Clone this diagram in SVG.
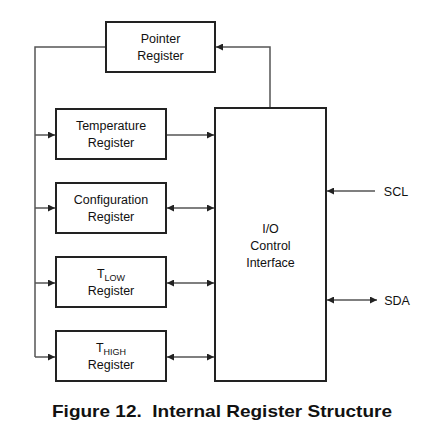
<svg xmlns="http://www.w3.org/2000/svg" width="427" height="430" viewBox="0 0 427 430">
<defs>
<marker id="ah" viewBox="0 0 10 10" refX="10" refY="5" markerWidth="9" markerHeight="7" markerUnits="userSpaceOnUse" orient="auto-start-reverse">
<path d="M0,0 L10,5 L0,10 z" fill="#222"/>
</marker>
<style>
.box{fill:#fff;stroke:#222;stroke-width:2}
.t{font-family:"Liberation Sans",Arial,sans-serif;font-size:12.5px;fill:#111;text-anchor:middle}
.sub{font-size:9px}
.c{fill:none;stroke:#555;stroke-width:1.5}
.a{marker-end:url(#ah)}
.b{marker-start:url(#ah);marker-end:url(#ah)}
.title{font-family:"Liberation Sans",Arial,sans-serif;font-size:17px;font-weight:bold;fill:#111}
</style>
</defs>
<rect width="427" height="430" fill="#fff"/>
<g id="connectors">
<path class="c" d="M106,47 H35 V357"/>
<path class="c a" d="M35,135 H55"/>
<path class="c a" d="M35,208 H55"/>
<path class="c a" d="M35,283 H55"/>
<path class="c a" d="M35,357 H55"/>
<path class="c a" d="M270,108 V47 H216"/>
<path class="c a" d="M166,135 H214"/>
<path class="c b" d="M167,208 H214"/>
<path class="c b" d="M167,283 H214"/>
<path class="c b" d="M167,357 H214"/>
<path class="c a" d="M375,191 H327"/>
<path class="c b" d="M327,300 H377"/>
</g>
<g id="pointer">
<rect class="box" x="106" y="22" width="109" height="50"/>
<text class="t" x="160.5" y="43">Pointer</text>
<text class="t" x="160.5" y="59.5">Register</text>
</g>
<g id="temperature">
<rect class="box" x="56" y="109" width="110" height="50"/>
<text class="t" x="111" y="130">Temperature</text>
<text class="t" x="111" y="147">Register</text>
</g>
<g id="configuration">
<rect class="box" x="56" y="183" width="110" height="50"/>
<text class="t" x="111" y="204">Configuration</text>
<text class="t" x="111" y="220.5">Register</text>
</g>
<g id="tlow">
<rect class="box" x="56" y="257" width="110" height="50"/>
<text class="t" x="111" y="278">T<tspan class="sub" dy="3">LOW</tspan></text>
<text class="t" x="111" y="294.5">Register</text>
</g>
<g id="thigh">
<rect class="box" x="56" y="331" width="110" height="50"/>
<text class="t" x="111" y="352">T<tspan class="sub" dy="3">HIGH</tspan></text>
<text class="t" x="111" y="368.5">Register</text>
</g>
<g id="io">
<rect class="box" x="215" y="108" width="111" height="273"/>
<text class="t" x="270.5" y="232.5">I/O</text>
<text class="t" x="270.5" y="250">Control</text>
<text class="t" x="270.5" y="266.5">Interface</text>
</g>
<g id="scl"><text class="t" x="396" y="195.5">SCL</text></g>
<g id="sda"><text class="t" x="397" y="304.5">SDA</text></g>
<text class="title" x="52" y="416.5" xml:space="preserve" textLength="340" lengthAdjust="spacingAndGlyphs">Figure 12.  Internal Register Structure</text>
</svg>
